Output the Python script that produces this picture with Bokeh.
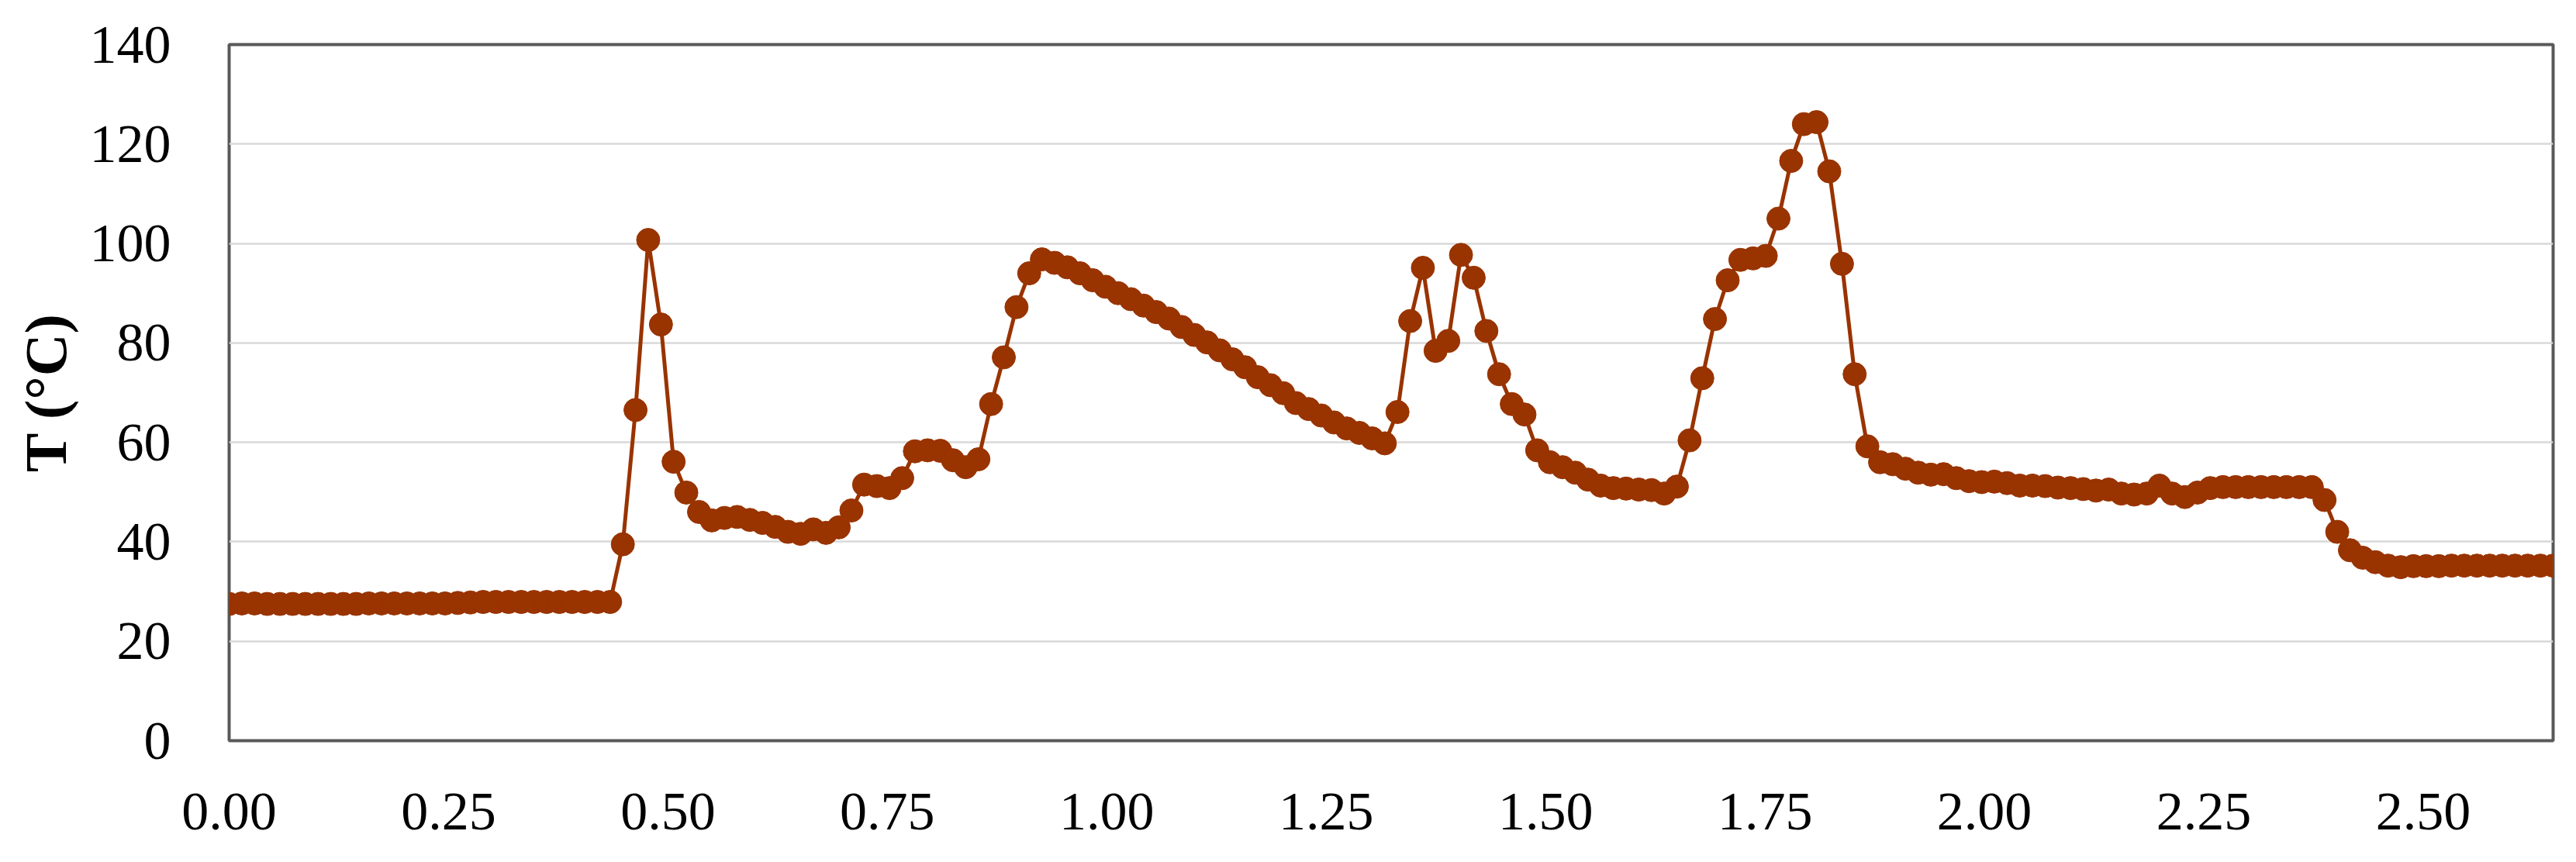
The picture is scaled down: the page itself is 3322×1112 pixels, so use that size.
from bokeh.plotting import figure
from bokeh.models import ColumnDataSource, FixedTicker, PrintfTickFormatter, Range1d
from bokeh.embed import file_html
from bokeh.resources import INLINE

# ---- data ----
DT = 0.01447  # sampling step along the x axis
T = [
    27.5, 27.6, 27.6, 27.5, 27.5, 27.5, 27.5, 27.5, 27.5, 27.5,
    27.5, 27.6, 27.6, 27.6, 27.6, 27.6, 27.6, 27.6, 27.7, 27.8,
    27.9, 27.9, 27.9, 27.9, 27.9, 27.9, 27.9, 27.9, 27.9, 27.9,
    27.9,
    39.5, 66.5, 100.7, 83.7, 56.1, 49.9, 46.0, 44.3, 44.8, 45.0,
    44.4, 43.8, 43.0, 42.0, 41.6, 42.5, 41.8, 42.9, 46.3, 51.5,
    51.2, 50.8, 52.8, 58.2, 58.4, 58.3, 56.4, 55.0, 56.6, 67.7,
    77.1, 87.2, 94.0, 96.8, 96.1, 95.2, 94.0, 92.6, 91.3, 90.0,
    88.8, 87.5, 86.2, 84.9, 83.2, 81.6, 80.1, 78.5, 76.7, 75.1,
    73.1, 71.5, 69.9, 67.9, 66.7, 65.4, 64.0, 62.8, 61.9, 60.8,
    59.8, 66.1, 84.4, 95.1, 78.4, 80.4, 97.7, 93.1, 82.4, 73.7,
    67.7, 65.6, 58.4, 56.0, 55.0, 53.9, 52.5, 51.3, 50.8, 50.7,
    50.5, 50.4, 49.7, 51.1, 60.4, 72.9, 84.8, 92.6, 96.7, 97.0,
    97.5, 105.0, 116.6, 124.0, 124.4, 114.5, 95.9, 73.7, 59.2, 56.0,
    55.6, 54.7, 53.9, 53.5, 53.6, 52.8, 52.2, 52.0, 52.1, 51.8,
    51.3, 51.3, 51.2, 50.9, 50.8, 50.6, 50.3, 50.5, 49.7, 49.5,
    49.7, 51.3, 49.7, 49.0, 49.9, 50.8, 51.0, 51.0, 51.0, 51.0,
    51.0, 51.0, 51.0, 51.0, 48.4, 42.0, 38.3, 36.8, 35.9, 35.2,
    34.9, 35.1, 35.1, 35.1, 35.2, 35.2, 35.2, 35.2, 35.2, 35.2,
    35.2, 35.2, 35.2,
]
X = [i * DT for i in range(len(T))]

X_TICKS = [0.0, 0.25, 0.5, 0.75, 1.0, 1.25, 1.5, 1.75, 2.0, 2.25, 2.5]
Y_TICKS = [0, 20, 40, 60, 80, 100, 120, 140]
Y_LABEL = "T (°C)"

COLOR = "#993300"
FONT = "Liberation Serif"

src = ColumnDataSource(data=dict(x=X, y=T))

p = figure(
    width=3306, height=1096,
    output_backend="svg", toolbar_location=None,
    x_range=Range1d(0, X[-1]), y_range=Range1d(0, 140),
    min_border_left=295, min_border_right=14,
    min_border_top=57, min_border_bottom=141,
)

p.line("x", "y", source=src, line_color=COLOR, line_width=5)
p.scatter("x", "y", source=src, size=30, fill_color=COLOR, line_color=COLOR)

p.outline_line_color = "#595959"
p.outline_line_width = 4
p.background_fill_color = "white"
p.border_fill_color = "white"

p.xgrid.visible = False
p.ygrid.ticker = FixedTicker(ticks=Y_TICKS)
p.ygrid.grid_line_color = "#d9d9d9"
p.ygrid.grid_line_width = 2.5

p.xaxis.ticker = FixedTicker(ticks=X_TICKS)
p.xaxis.formatter = PrintfTickFormatter(format="%.2f")
p.yaxis.ticker = FixedTicker(ticks=Y_TICKS)

for ax in (p.xaxis[0], p.yaxis[0]):
    ax.axis_line_color = None
    ax.major_tick_line_color = None
    ax.minor_tick_line_color = None
    ax.major_tick_out = 0
    ax.major_tick_in = 0
    ax.minor_tick_out = 0
    ax.minor_tick_in = 0
    ax.major_label_text_font = FONT
    ax.major_label_text_font_size = "70px"
    ax.major_label_text_color = "black"

p.xaxis.major_label_standoff = 68
p.yaxis.major_label_standoff = 75

p.yaxis.axis_label = Y_LABEL
p.yaxis.axis_label_text_font = FONT
p.yaxis.axis_label_text_font_style = "bold"
p.yaxis.axis_label_text_font_size = "76px"
p.yaxis.axis_label_text_color = "black"
p.yaxis.axis_label_standoff = 12

open("out.html", "w").write(file_html(p, INLINE))
